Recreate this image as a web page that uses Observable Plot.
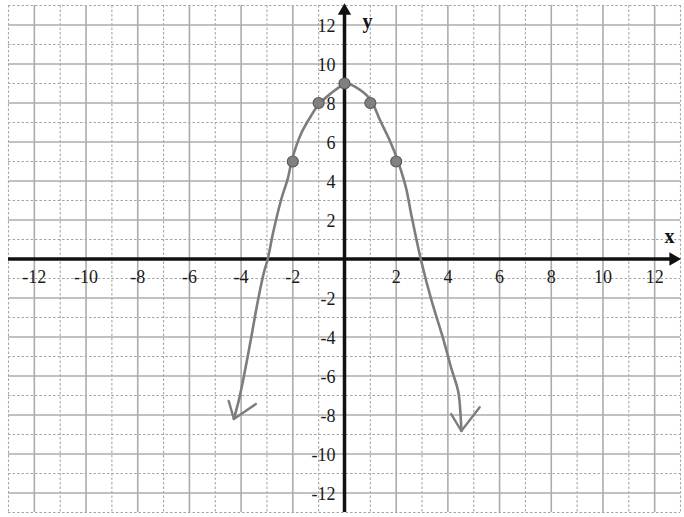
<!DOCTYPE html>
<html>
<head>
<meta charset="utf-8">
<script src="https://cdn.jsdelivr.net/npm/d3@7"></script>
<script src="https://cdn.jsdelivr.net/npm/@observablehq/plot@0.6"></script>
<style>
  html, body { margin: 0; padding: 0; background: #fff; }
  #chart svg { display: block; }
  #chart svg text { font-family: "Liberation Serif", "Times New Roman", serif; }
</style>
</head>
<body>
<div id="chart"></div>
<script>
// Plotted points
const pointX = [-2, -1, 0, 1, 2];
const pointY = [5, 8, 9, 8, 5];

// Freehand curve through the points, traced left to right
const curveX = [-4.28, -4.08, -3.89, -3.62, -3.36, -3.12, -2.97, -2.77, -2.46, -2.19, -2.03, -1.69, -1.3, -0.98, -0.52, -0.14, 0.06, 0.45, 0.99, 1.38, 1.76, 2.07, 2.38, 2.58, 2.95, 3.35, 3.82, 4.13, 4.4, 4.5, 4.52];
const curveY = [-8.2, -7.2, -6.0, -4.1, -2.2, -0.7, 0, 1.3, 3.0, 4.15, 5.1, 6.4, 7.33, 7.95, 8.5, 8.87, 9.0, 8.8, 8.2, 7.1, 6.05, 5.0, 3.65, 2.3, 0, -2.05, -4.1, -5.6, -6.8, -8.2, -8.82];

// Arrow barbs drawn at both ends of the curve
const barbLeftX = [-4.48, -4.28, -3.43];
const barbLeftY = [-7.28, -8.2, -7.44];
const barbRightX = [4.13, 4.52, 5.23];
const barbRightY = [-7.95, -8.82, -7.6];

// Axis numbering and graph-paper lines
const tickValues = [-12, -10, -8, -6, -4, -2, 2, 4, 6, 8, 10, 12];
const majorGrid = [-12, -10, -8, -6, -4, -2, 0, 2, 4, 6, 8, 10, 12];
const minorGrid = [-13, -11, -9, -7, -5, -3, -1, 1, 3, 5, 7, 9, 11, 13];

const curve = curveX.map((x, i) => ({x, y: curveY[i]}));
const points = pointX.map((x, i) => ({x, y: pointY[i]}));
const barbs = [
  ...barbLeftX.map((x, i) => ({x, y: barbLeftY[i], end: "left"})),
  ...barbRightX.map((x, i) => ({x, y: barbRightY[i], end: "right"}))
];

const axisEnd = 12.72;
const serif = "Liberation Serif";

const chart = Plot.plot({
  width: 684,
  height: 517,
  marginLeft: 8,
  marginRight: 4,
  marginTop: 5,
  marginBottom: 5,
  x: {domain: [-13, 13], axis: null},
  y: {domain: [-13, 13], axis: null},
  style: {background: "#fff"},
  marks: [
    // graph paper
    Plot.ruleX(minorGrid, {stroke: "#a6a6a6", strokeWidth: 1.1, strokeDasharray: "2.5,2"}),
    Plot.ruleY(minorGrid, {stroke: "#a6a6a6", strokeWidth: 1.1, strokeDasharray: "2.5,2"}),
    Plot.ruleX(majorGrid, {stroke: "#acacac", strokeWidth: 1.6}),
    Plot.ruleY(majorGrid, {stroke: "#acacac", strokeWidth: 1.6}),

    // tick numbers
    Plot.text(tickValues, {x: d => d, y: 0, dy: 18, text: d => String(d), fontFamily: serif, fontSize: 18, fill: "#1a1a1a"}),
    Plot.text(tickValues, {x: 0, y: d => d, dx: -9, dy: 1, textAnchor: "end", text: d => String(d), fontFamily: serif, fontSize: 18, fill: "#1a1a1a"}),

    // axes with arrowheads
    Plot.ruleY([0], {x1: -13, x2: axisEnd, stroke: "#111", strokeWidth: 3.5}),
    Plot.ruleX([0], {y1: -13, y2: axisEnd, stroke: "#111", strokeWidth: 3.5}),
    Plot.dot([0], {x: 0, y: axisEnd, symbol: "triangle", r: 5, fill: "#111", stroke: "none"}),
    Plot.dot([0], {x: axisEnd, y: 0, symbol: "triangle", r: 5, rotate: 90, fill: "#111", stroke: "none"}),
    Plot.text(["x"], {x: 13, y: 0, dx: -11, dy: -22, text: d => d, fontFamily: serif, fontSize: 20, fontWeight: "bold", fill: "#111"}),
    Plot.text(["y"], {x: 0, y: 13, dx: 23, dy: 16, text: d => d, fontFamily: serif, fontSize: 20, fontWeight: "bold", fill: "#111"}),

    // the drawn graph
    Plot.line(curve, {x: "x", y: "y", curve: "catmull-rom", stroke: "#7d7d7d", strokeWidth: 2.6}),
    Plot.line(barbs, {x: "x", y: "y", z: "end", stroke: "#7d7d7d", strokeWidth: 2.4}),
    Plot.dot(points, {x: "x", y: "y", r: 5.5, fill: "#808080", stroke: "#5a5a5a", strokeWidth: 1.2})
  ]
});

document.getElementById("chart").append(chart);
</script>
</body>
</html>
